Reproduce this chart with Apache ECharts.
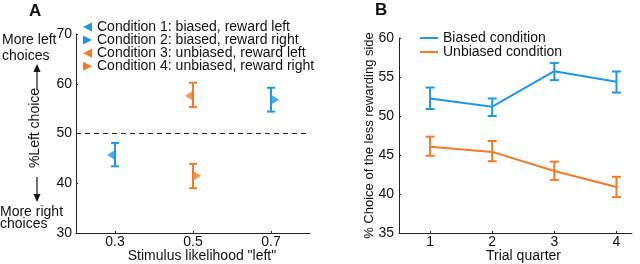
<!DOCTYPE html>
<html>
<head>
<meta charset="utf-8">
<script src="https://cdn.jsdelivr.net/npm/echarts@6/dist/echarts.min.js"></script>
<style>
  html, body { margin: 0; padding: 0; background: #fff; }
  #echarts { width: 640px; height: 264px; }
</style>
</head>
<body>
<div id="echarts"></div>
<script>
var blue = '#1f97e6', orange = '#f27a2a';
var font = 'Liberation Sans';

/* A: stimulus likelihood panel */
var stimTicks = [0.3, 0.5, 0.7];
var condNames = ['Condition 1: biased, reward left', 'Condition 2: biased, reward right',
                 'Condition 3: unbiased, reward left', 'Condition 4: unbiased, reward right'];
var condX = [0.3, 0.7, 0.5, 0.5];
var condMean = [45.7, 56.8, 57.6, 41.5];
var condLow = [43.4, 54.4, 55.3, 39.0];
var condHigh = [48.1, 59.2, 60.2, 43.9];

/* B: trial quarter panel */
var quarters = [1, 2, 3, 4];
var biasedMean = [52.25, 51.2, 55.75, 54.4];
var biasedLow = [50.9, 50.0, 54.6, 53.0];
var biasedHigh = [53.65, 52.25, 56.8, 55.7];
var unbiasedMean = [46.05, 45.4, 42.95, 40.9];
var unbiasedLow = [44.9, 44.2, 41.8, 39.6];
var unbiasedHigh = [47.35, 46.8, 44.15, 42.2];

var leftTri = 'path://M10,0 L0,5 L10,10 Z';
var rightTri = 'path://M0,0 L10,5 L0,10 Z';
var condColor = [blue, blue, orange, orange];
var condIcon = [leftTri, rightTri, leftTri, rightTri];
var condOffset = [-4, 4, -4, 4];

// 误差线
function errBar(capW) {
    return function (params, api) {
        var top = api.coord([api.value(0), api.value(2)]);
        var bot = api.coord([api.value(0), api.value(1)]);
        var st = { stroke: api.visual('color'), lineWidth: 2 };
        return {
            type: 'group',
            children: [
                { type: 'line', shape: { x1: top[0], y1: top[1], x2: bot[0], y2: bot[1] }, style: st },
                { type: 'line', shape: { x1: top[0] - capW, y1: top[1], x2: top[0] + capW, y2: top[1] }, style: st },
                { type: 'line', shape: { x1: bot[0] - capW, y1: bot[1], x2: bot[0] + capW, y2: bot[1] }, style: st }
            ]
        };
    };
}

function axisBase() {
    return {
        nameMoveOverlap: false,
        axisLine: { show: true, lineStyle: { color: '#222', width: 1 } },
        axisTick: { show: true, inside: true, length: 2, lineStyle: { color: '#222' } },
        splitLine: { show: false },
        axisLabel: { color: '#111', fontFamily: font, fontSize: 14 },
        nameTextStyle: { color: '#111', fontFamily: font, fontSize: 14 }
    };
}

var series = [];
var legendA = [];
for (var i = 0; i < 4; i++) {
    series.push({
        name: condNames[i], type: 'custom', xAxisIndex: 0, yAxisIndex: 0,
        itemStyle: { color: condColor[i] },
        renderItem: errBar(4),
        data: [[condX[i], condLow[i], condHigh[i]]],
        z: 2
    });
    series.push({
        name: condNames[i], type: 'scatter', xAxisIndex: 0, yAxisIndex: 0,
        symbol: condIcon[i], symbolSize: [8, 10], symbolOffset: [condOffset[i], 0],
        itemStyle: { color: condColor[i] },
        data: [[condX[i], condMean[i]]],
        markLine: i === 0 ? {
            silent: true, symbol: 'none', label: { show: false },
            lineStyle: { color: '#222', type: [5, 4], width: 1 },
            data: [{ yAxis: 50 }]
        } : undefined,
        z: 3
    });
    legendA.push({ name: condNames[i], icon: condIcon[i] });
}

function zip(xs, ys) {
    return xs.map(function (x, k) { return [x, ys[k]]; });
}
function zip3(xs, a, b) {
    return xs.map(function (x, k) { return [x, a[k], b[k]]; });
}

series.push({
    name: 'Biased condition', type: 'line', xAxisIndex: 1, yAxisIndex: 1,
    symbol: 'none', lineStyle: { color: blue, width: 2 }, itemStyle: { color: blue },
    data: zip(quarters, biasedMean)
});
series.push({
    name: 'Unbiased condition', type: 'line', xAxisIndex: 1, yAxisIndex: 1,
    symbol: 'none', lineStyle: { color: orange, width: 2 }, itemStyle: { color: orange },
    data: zip(quarters, unbiasedMean)
});
series.push({
    name: 'Biased condition', type: 'custom', xAxisIndex: 1, yAxisIndex: 1,
    itemStyle: { color: blue }, renderItem: errBar(4.5),
    data: zip3(quarters, biasedLow, biasedHigh)
});
series.push({
    name: 'Unbiased condition', type: 'custom', xAxisIndex: 1, yAxisIndex: 1,
    itemStyle: { color: orange }, renderItem: errBar(4.5),
    data: zip3(quarters, unbiasedLow, unbiasedHigh)
});

var xA = axisBase();
Object.assign(xA, {
    gridIndex: 0, type: 'value', min: 0.2, max: 0.8,
    name: 'Stimulus likelihood "left"', nameLocation: 'middle', nameGap: 16
});
xA.axisLabel.customValues = stimTicks;
xA.axisLabel.margin = 2;
xA.axisTick.customValues = stimTicks;
xA.axisLabel.formatter = function (v) { return v.toFixed(1); };
xA.nameTextStyle.padding = [0, 0, 0, 18];

var yA = axisBase();
Object.assign(yA, { gridIndex: 0, type: 'value', min: 30, max: 70, interval: 10 });
yA.axisLabel.margin = 4;

var xB = axisBase();
Object.assign(xB, {
    gridIndex: 1, type: 'value', min: 0.5, max: 4.25,
    name: 'Trial quarter', nameLocation: 'middle', nameGap: 16
});
xB.axisLabel.customValues = quarters;
xB.axisLabel.margin = 2;
xB.axisTick.customValues = quarters;
xB.nameTextStyle.padding = [0, 0, 0, 16];

var yB = axisBase();
Object.assign(yB, {
    gridIndex: 1, type: 'value', min: 35, max: 60, interval: 5,
    name: '% Choice of the less rewarding side', nameLocation: 'middle', nameGap: 23
});
yB.axisLabel.margin = 5;
yB.nameTextStyle.fontSize = 13;

var txt = { fontFamily: font, fontSize: 14, fill: '#111' };
var myChart = echarts.init(document.getElementById('echarts'));
var option = {
    animation: false,
    grid: [
        { left: 76, right: 330, top: 34, bottom: 31, outerBoundsMode: 'none' },
        { left: 399, right: 8, top: 38, bottom: 31, outerBoundsMode: 'none' }
    ],
    xAxis: [xA, xB],
    yAxis: [yA, yB],
    legend: [
        {
            orient: 'vertical', left: 83, top: 20, padding: 0,
            itemWidth: 9, itemHeight: 10, itemGap: -0.9,
            textStyle: { fontFamily: font, fontSize: 14, color: '#111', lineHeight: 14 },
            data: legendA, selectedMode: false
        },
        {
            orient: 'vertical', left: 420, top: 31, padding: 0,
            itemWidth: 18, itemHeight: 2, itemGap: 0,
            textStyle: { fontFamily: font, fontSize: 14, color: '#111', lineHeight: 14 },
            data: [{ name: 'Biased condition', icon: 'rect' }, { name: 'Unbiased condition', icon: 'rect' }],
            selectedMode: false
        }
    ],
    graphic: [
        { type: 'text', left: 29, top: 3, style: { text: 'A', fontFamily: font, fontSize: 17, fontWeight: 'bold', fill: '#111' } },
        { type: 'text', left: 375, top: 2, style: { text: 'B', fontFamily: font, fontSize: 17, fontWeight: 'bold', fill: '#111' } },
        { type: 'text', left: 2, top: 32, style: Object.assign({ text: 'More left\nchoices', lineHeight: 16 }, txt) },
        { type: 'text', left: 0, top: 205, style: Object.assign({ text: 'More right\nchoices', lineHeight: 12.5 }, txt) },
        { type: 'text', x: 35, y: 128, rotation: Math.PI / 2,
          style: Object.assign({ text: '%Left choice', align: 'center', verticalAlign: 'middle' }, txt) },
        { type: 'line', shape: { x1: 37, y1: 70, x2: 37, y2: 90 }, style: { stroke: '#111', lineWidth: 1.2 } },
        { type: 'polygon', shape: { points: [[37, 64], [33.5, 72], [40.5, 72]] }, style: { fill: '#111' } },
        { type: 'line', shape: { x1: 37, y1: 177, x2: 37, y2: 196 }, style: { stroke: '#111', lineWidth: 1.2 } },
        { type: 'polygon', shape: { points: [[37, 202], [33.5, 194], [40.5, 194]] }, style: { fill: '#111' } }
    ],
    series: series
};
myChart.setOption(option);
</script>
</body>
</html>
